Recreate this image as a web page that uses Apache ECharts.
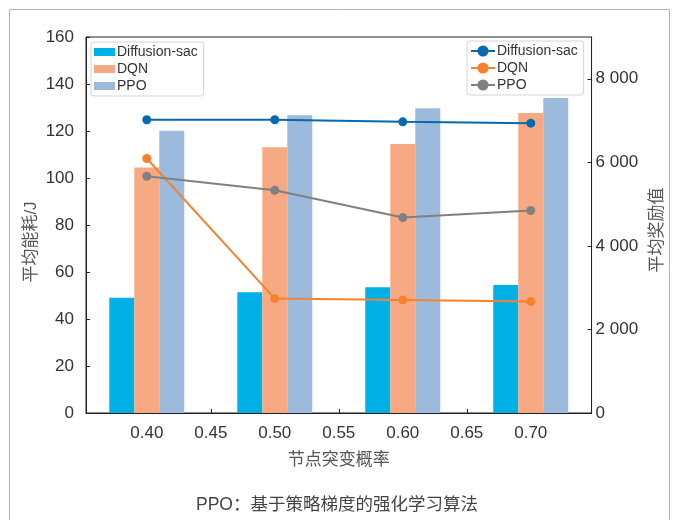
<!DOCTYPE html>
<html>
<head>
<meta charset="utf-8">
<script src="https://cdn.jsdelivr.net/npm/echarts@6/dist/echarts.min.js"></script>
<style>
html, body { margin: 0; padding: 0; background: #fff; }
#main { width: 674px; height: 520px; }
</style>
</head>
<body>
<div id="main"></div>
<script type="text/javascript">

// 节点突变概率
var xValues = [0.40, 0.50, 0.60, 0.70];

// 平均能耗/J (bars, left axis)
var energyDiff = [49.0, 51.4, 53.5, 54.5];
var energyDQN = [104.5, 113.1, 114.5, 127.7];
var energyPPO = [120.1, 126.7, 129.7, 134.0];

// 平均奖励值 (lines, right axis)
var rewardDiff = [7018, 7018, 6970, 6937];
var rewardDQN = [6091, 2738, 2707, 2666];
var rewardPPO = [5667, 5332, 4678, 4846];

var seriesNames = ['Diffusion-sac', 'DQN', 'PPO'];
var barColors = ['#00b0e6', '#f6a982', '#9bbadc'];
var lineColors = ['#0868b0', '#f5822f', '#808080'];

function pairs(ys) {
    return xValues.map(function (x, i) { return [x, ys[i]]; });
}

var fontFamily = "'Liberation Sans', 'Noto Sans CJK SC', sans-serif";
var textColor = '#333';

var barData = [energyDiff, energyDQN, energyPPO];
var lineData = [rewardDiff, rewardDQN, rewardPPO];

var series = [];
barData.forEach(function (d, i) {
    series.push({
        name: seriesNames[i],
        type: 'bar',
        xAxisIndex: 0,
        yAxisIndex: 0,
        barWidth: 25,
        barGap: '0%',
        itemStyle: { color: barColors[i] },
        data: pairs(d)
    });
});
lineData.forEach(function (d, i) {
    series.push({
        name: seriesNames[i] + ' ',
        type: 'line',
        xAxisIndex: 0,
        yAxisIndex: 1,
        symbol: 'circle',
        symbolSize: 9,
        z: 5,
        lineStyle: { color: lineColors[i], width: 2 },
        itemStyle: { color: lineColors[i] },
        data: pairs(d)
    });
});

var option = {
    animation: false,
    textStyle: { fontFamily: fontFamily },
    graphic: [{
        type: 'rect',
        shape: { x: 9.5, y: 9.5, width: 660, height: 530 },
        style: { fill: 'none', stroke: '#b4b4b4', lineWidth: 1 },
        silent: true
    }],
    title: {
        text: 'PPO：基于策略梯度的强化学习算法',
        left: 'center',
        top: 491,
        textStyle: { fontSize: 17.5, fontWeight: 'normal', color: '#444', fontFamily: fontFamily }
    },
    grid: {
        left: 86, right: 82, top: 37, bottom: 107,
        show: true, borderColor: '#222', borderWidth: 1, backgroundColor: 'transparent'
    },
    legend: [{
        data: seriesNames,
        orient: 'vertical',
        left: 91, top: 42,
        padding: [3, 6, 3, 3],
        itemGap: 3,
        itemWidth: 21, itemHeight: 8,
        icon: 'rect',
        borderColor: '#d4d4d4', borderWidth: 1, borderRadius: 3,
        textStyle: { fontSize: 14, color: textColor, padding: [0, 0, 0, -3] }
    }, {
        data: seriesNames.map(function (n) { return n + ' '; }),
        orient: 'vertical',
        left: 467, top: 41,
        padding: [3, 6, 3, 3],
        itemGap: 3,
        itemWidth: 24, itemHeight: 14,
        borderColor: '#d4d4d4', borderWidth: 1, borderRadius: 3,
        formatter: function (n) { return n.trim(); },
        textStyle: { fontSize: 14, color: textColor, padding: [0, 0, 0, -3] }
    }],
    xAxis: [{
        type: 'value',
        min: 0.3525, max: 0.7475, splitNumber: 8,
        name: '节点突变概率',
        nameLocation: 'middle',
        nameGap: 39,
        nameTextStyle: { fontSize: 17, color: '#555', fontFamily: fontFamily },
        axisLine: { show: true, lineStyle: { color: '#222' } },
        axisTick: { show: true, inside: true, length: 4, lineStyle: { color: '#222' } },
        axisLabel: {
            fontSize: 17, color: textColor, margin: 12,
            showMinLabel: false, showMaxLabel: false,
            formatter: function (v) { return v.toFixed(2); }
        },
        splitLine: { show: false }
    }],
    yAxis: [{
        type: 'value',
        position: 'left',
        min: 0, max: 160, interval: 20,
        name: '平均能耗/J',
        nameLocation: 'middle',
        nameGap: 46,
        nameRotate: 90,
        nameMoveOverlap: false,
        nameTextStyle: { fontSize: 17, color: '#555', fontFamily: fontFamily, padding: [0, 34, 0, 0] },
        axisLine: { show: true, lineStyle: { color: '#222' } },
        axisTick: { show: true, inside: true, length: 4, lineStyle: { color: '#222' } },
        axisLabel: { fontSize: 17, color: textColor, margin: 12 },
        splitLine: { show: false }
    }, {
        type: 'value',
        position: 'right',
        min: 0, max: 9000, interval: 2000,
        name: '平均奖励值',
        nameLocation: 'middle',
        nameGap: 55,
        nameRotate: 90,
        nameTextStyle: { fontSize: 17, color: '#555', fontFamily: fontFamily, padding: [0, 10, 0, 0] },
        axisLine: { show: true, lineStyle: { color: '#222' } },
        axisTick: { show: true, inside: true, length: 4, lineStyle: { color: '#222' } },
        axisLabel: {
            fontSize: 17, color: textColor, margin: 4,
            showMaxLabel: false,
            formatter: function (v) {
                return String(v).replace(/\B(?=(\d{3})+(?!\d))/g, ' ');
            }
        },
        splitLine: { show: false }
    }],
    series: series
};

var chart = echarts.init(document.getElementById('main'));
chart.setOption(option);
</script>
</body>
</html>
